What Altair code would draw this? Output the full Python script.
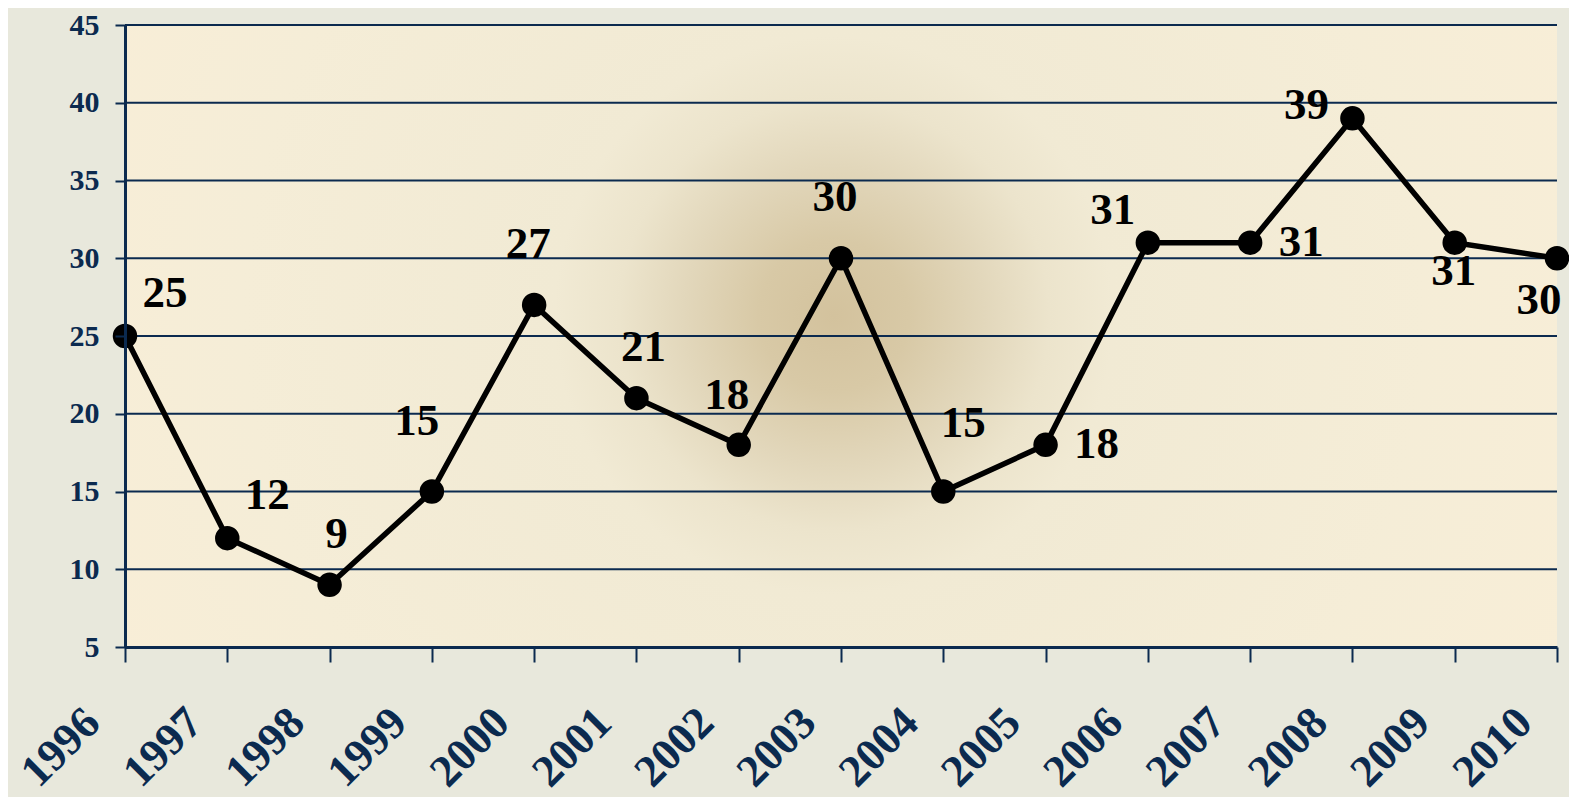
import altair as alt
import pandas as pd

# ---- data ----
years = [str(y) for y in range(1996, 2011)]
values = [25, 12, 9, 15, 27, 21, 18, 30, 15, 18, 31, 31, 39, 31, 30]
label_place = ["upper-right", "upper-right", "above-near", "above-left-high", "above",
               "above-near", "above-left", "above", "above-right-high", "right",
               "upper-left", "right", "left", "below", "below-left"]
y_ticks = [5, 10, 15, 20, 25, 30, 35, 40, 45]

# ---- styles ----
NAVY = "#0b2a4f"
FONT = "Liberation Serif"
PLACE_OFFSETS = {
    "upper-right": (40, -43),
    "above-near": (7, -51),
    "above-left-high": (-15, -71),
    "above": (-6, -61),
    "above-left": (-12, -50),
    "above-right-high": (20, -69),
    "right": (51, -1),
    "upper-left": (-35, -33),
    "left": (-46, -13),
    "below": (-1, 28),
    "below-left": (-18, 42),
}

df = pd.DataFrame({"year": years, "value": values, "place": label_place})
bg_df = pd.DataFrame({"year": [years[0]], "year_end": [years[-1]],
                      "value": [y_ticks[0]], "value_end": [y_ticks[-1]]})
grid_df = pd.DataFrame({"value": y_ticks})

x_enc = alt.X(
    "year:O",
    title=None,
    scale=alt.Scale(type="point", padding=0, domain=years),
    axis=alt.Axis(
        labelAngle=-45, labelAlign="right", labelBaseline="middle",
        labelFont=FONT, labelFontSize=45, labelFontWeight="bold", labelColor=NAVY,
        labelPadding=53, labelOffset=-33, labelOverlap=False, labelBound=False,
        tickSize=15, tickWidth=2, tickColor=NAVY,
        domainColor=NAVY, domainWidth=3, grid=False, zindex=1,
    ),
)
y_enc = alt.Y(
    "value:Q",
    title=None,
    scale=alt.Scale(domain=[y_ticks[0], y_ticks[-1]], nice=False, zero=False),
    axis=alt.Axis(
        values=y_ticks, labelFont=FONT, labelFontSize=30, labelFontWeight="bold",
        labelColor=NAVY, labelPadding=16, tickSize=10, tickWidth=2, tickColor=NAVY,
        domainColor=NAVY, domainWidth=3, grid=False, zindex=1,
    ),
)

bg_grad = alt.RadialGradient(
    gradient="radial",
    x1=0.495, y1=0.486, r1=0,
    x2=0.495, y2=0.486, r2=0.75,
    stops=[
        alt.GradientStop(offset=0, color="#d3c29d"),
        alt.GradientStop(offset=0.07, color="#d8c9a6"),
        alt.GradientStop(offset=0.14, color="#e2d7bb"),
        alt.GradientStop(offset=0.2, color="#ece4cc"),
        alt.GradientStop(offset=0.26, color="#f1ead4"),
        alt.GradientStop(offset=0.55, color="#f5edd7"),
        alt.GradientStop(offset=1, color="#fcefd7"),
    ],
)

bg = alt.Chart(bg_df).mark_rect(fill=bg_grad).encode(
    x=x_enc, x2="year_end:O", y=y_enc, y2="value_end:Q"
)

grid = alt.Chart(grid_df).mark_rule(color=NAVY, strokeWidth=2).encode(
    y=alt.Y("value:Q")
)

line = alt.Chart(df).mark_line(color="black", strokeWidth=5.5).encode(x=x_enc, y=y_enc)
points = alt.Chart(df).mark_circle(color="black", size=600, opacity=1).encode(x=x_enc, y=y_enc)

label_layers = []
for place, (dx, dy) in PLACE_OFFSETS.items():
    label_layers.append(
        alt.Chart(df)
        .transform_filter(alt.datum.place == place)
        .mark_text(dx=dx, dy=dy, font=FONT, fontSize=45, fontWeight="bold",
                   color="black", align="center", baseline="middle")
        .encode(x=x_enc, y=y_enc, text=alt.Text("value:Q"))
    )

chart = (
    alt.layer(bg, grid, line, points, *label_layers)
    .properties(
        width=1432, height=622,
        autosize=alt.AutoSizeParams(type="none"),
        padding={"left": 117, "top": 17, "right": 12, "bottom": 150},
        background="#e8e8dc",
    )
    .configure_view(stroke=None)
)

chart.save("out.html", embed_options={"renderer": "svg", "actions": False})
